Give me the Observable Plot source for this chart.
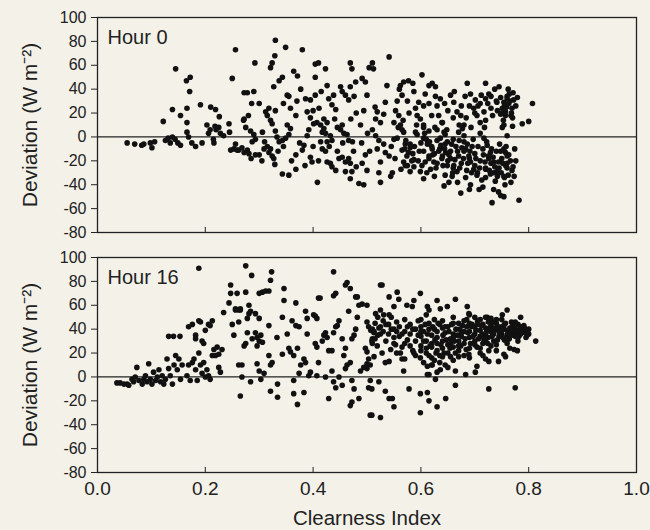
<!DOCTYPE html>
<html>
<head>
<meta charset="utf-8">
<script src="https://cdn.jsdelivr.net/npm/d3@7"></script>
<script src="https://cdn.jsdelivr.net/npm/@observablehq/plot@0.6"></script>
<style>
  html, body { margin: 0; padding: 0; background: #f3f1e8; }
  #chart { width: 650px; height: 530px; }
  #chart svg { display: block; }
</style>
</head>
<body>
<div id="chart"></div>
<script>
const panelTitles = ["Hour 0", "Hour 16"];
const yLabel = "Deviation (W m⁻²)";
const xLabel = "Clearness Index";
const yTicks = [-80, -60, -40, -20, 0, 20, 40, 60, 80, 100];
const xTicks = [0, 0.2, 0.4, 0.6, 0.8, 1.0];
const innerXTicks = [0.2, 0.4, 0.6, 0.8];

// Hour 0: [clearness index, deviation]
const hour0Points = [
[0.055,-5],[0.069,-6],[0.082,-7],[0.086,-6],[0.098,-5],[0.101,-9],[0.106,-4],
[0.122,13],[0.126,-3],[0.131,-1],[0.135,-5],[0.139,0],[0.144,-2],[0.149,-5],[0.154,-7],
[0.139,23],[0.145,57],[0.154,18],[0.165,47],[0.172,50],[0.171,38],
[0.166,24],[0.166,12],[0.166,4],[0.169,0],[0.175,-5],[0.182,-8],
[0.191,27],[0.194,-5],[0.203,10],[0.206,3],[0.209,6],[0.21,25],[0.219,23],
[0.218,9],[0.22,6],[0.225,8],[0.228,3],[0.226,17],[0.216,-5],[0.215,-2],[0.234,1],
[0.244,11],[0.245,4],[0.250,49],[0.256,73],
[0.247,-11],[0.253,-10],[0.262,-11],[0.272,-13],[0.272,37],[0.272,15],[0.256,-6],
[0.259,-11],[0.268,-9],[0.278,-11],[0.281,-14],[0.293,-15],[0.3,-15],
[0.271,14],[0.275,8],[0.278,37],[0.29,38],[0.286,28],[0.292,62],
[0.284,5],[0.29,2],[0.293,-2],[0.287,-4],
[0.306,4],[0.309,-10],[0.315,-8],[0.318,-13],[0.321,-10],[0.324,-16],
[0.312,21],[0.315,18],[0.318,24],[0.321,14],[0.324,11],
[0.321,58],[0.324,62],[0.329,68],[0.330,81],[0.349,75],
[0.327,42],[0.337,47],[0.343,50],
[0.330,5],[0.333,0],[0.337,-4],[0.343,-3],[0.349,-1],[0.355,2],[0.352,10],[0.358,7],
[0.327,-18],[0.329,-23],[0.343,-31],[0.355,-32],[0.368,-27],
[0.352,35],[0.355,34],[0.358,24],[0.368,18],
[0.364,55],[0.371,51],[0.377,40],[0.380,73],
[0.368,-15],[0.380,-11],[0.383,-7],[0.389,1],[0.392,6],
[0.386,32],[0.389,21],[0.395,31],[0.404,35],[0.395,16],
[0.395,-17],[0.398,-21],[0.408,-38],
[0.404,61],[0.410,62],[0.404,50],
[0.401,11],[0.407,12],[0.414,10],[0.420,7],[0.417,4],[0.423,3],[0.426,12],[0.420,15],[0.411,24],
[0.414,-4],[0.417,-10],[0.423,-12],[0.426,-4],[0.432,1],[0.435,-3],
[0.423,57],[0.426,43],[0.429,32],[0.435,27],[0.442,23],[0.438,35],[0.451,42],[0.454,38],
[0.426,-21],[0.432,-22],[0.435,-25],[0.442,-28],[0.448,-18],[0.454,-17],[0.460,-21],[0.466,-18],[0.469,-22],[0.460,-29],[0.469,-35],[0.472,-29],
[0.445,8],[0.451,6],[0.457,3],[0.463,2],[0.454,10],[0.466,-3],[0.473,-4],
[0.460,35],[0.466,31],[0.469,42],[0.476,34],[0.472,57],[0.469,62],[0.479,46],
[0.485,-39],[0.494,-40],
[0.491,49],[0.497,46],[0.494,22],[0.504,58],
[0.488,10],[0.501,3],[0.497,-15],[0.491,-22],
[0.510,62],[0.512,57],[0.541,67],
[0.537,43],[0.534,29],[0.531,19],[0.519,21],[0.516,15],[0.525,12],[0.516,1],[0.522,-3],[0.519,-10],[0.531,-6],[0.534,-13],[0.525,-21],[0.522,-30],[0.525,-38],[0.541,-16],[0.544,-33],[0.547,-30],
[0.562,43],[0.568,46],[0.577,47],[0.556,30],[0.565,35],[0.553,22],[0.559,18],[0.55,12],[0.562,10],[0.568,4],[0.556,-1],[0.571,-6],[0.565,-11],[0.577,-13],[0.58,-9],[0.574,-16],[0.587,-19],[0.568,-21],[0.571,-24],[0.587,-25],[0.599,-29],[0.58,-29],[0.605,-35],
[0.587,38],[0.596,29],[0.605,26],[0.593,18],[0.599,15],[0.605,10],[0.615,5],[0.593,2],[0.605,-1],[0.612,-6],[0.621,-10],[0.615,-16],[0.608,-21],[0.624,-21],[0.618,-27],
[0.602,52],[0.615,43],[0.627,42],[0.621,45],[0.63,26],[0.636,32],[0.633,18],[0.639,12],[0.643,4],[0.636,-1],[0.649,-4],[0.646,-13],[0.639,-18],[0.655,-18],[0.649,-24],[0.661,-24],[0.652,-38],[0.643,-41],[0.658,-33],[0.667,-29],
[0.655,35],[0.661,29],[0.667,21],[0.674,18],[0.671,10],[0.677,7],[0.68,1],[0.671,-3],[0.686,-6],[0.683,-10],[0.689,-16],[0.692,-21],[0.698,-27],[0.704,-32],[0.674,-47],[0.692,-40],[0.708,-44],
[0.686,45],[0.692,36],[0.701,31],[0.698,24],[0.704,18],[0.71,12],[0.717,21],[0.72,45],[0.726,36],[0.71,3],[0.717,-1],[0.723,-7],[0.729,-13],[0.726,-18],[0.735,-21],[0.72,-27],[0.729,-31],[0.738,-37],[0.744,-46],[0.732,-55],[0.748,-49],
[0.741,29],[0.751,24],[0.757,18],[0.754,10],[0.76,1],[0.754,-10],[0.76,-16],[0.744,-21],[0.757,-24],[0.741,-29],
[0.771,37],[0.76,34],[0.754,29],[0.763,28],[0.769,24],[0.757,21],[0.748,19],[0.767,18],[0.77,16],[0.77,9],[0.751,8],
[0.807,28],[0.788,11],[0.8,13],
[0.748,-12],[0.757,-13],[0.763,-15],[0.776,-20],[0.76,-26],[0.769,-28],[0.773,-33],[0.754,-33],[0.767,-38],[0.754,-50],[0.782,-53]
];
const hour0Dense = [
[0.6,-5],[0.605,-12],[0.61,-2],[0.615,-18],[0.62,-8],[0.625,-14],[0.63,-3],[0.63,-22],[0.635,-10],[0.64,-16],
[0.645,2],[0.645,-6],[0.65,-20],[0.655,-12],[0.66,-2],[0.66,-26],[0.665,-8],[0.67,-16],[0.675,-22],[0.68,-4],
[0.68,-12],[0.685,-28],[0.69,-18],[0.695,-8],[0.70,-24],[0.70,-14],[0.705,-30],[0.71,-20],[0.715,-10],[0.72,-26],
[0.72,-34],[0.725,-16],[0.73,-22],[0.735,-30],[0.74,-12],[0.745,-26],[0.75,-18],[0.755,-34],[0.76,-22],[0.58,-6],
[0.585,-14],[0.59,4],[0.595,-20],[0.57,-10],[0.565,6],[0.575,-24],[0.55,-2],[0.545,-8],[0.7,20],[0.71,28],
[0.72,14],[0.73,24],[0.74,30],[0.75,20],[0.76,32],[0.69,26],[0.68,10],[0.67,4],[0.66,16],[0.65,22],
[0.64,12],[0.63,6],[0.62,18],[0.615,28],[0.605,8],[0.72,32],[0.73,34],[0.755,26],[0.765,30]
];
const hour0Dense2 = [
[0.552,-18],[0.558,8],[0.563,-27],[0.567,14],[0.572,-3],[0.578,20],[0.583,-20],[0.588,-8],[0.592,10],[0.597,-12],
[0.602,-24],[0.607,3],[0.611,-30],[0.616,-4],[0.622,-15],[0.626,8],[0.628,-26],[0.633,-12],[0.637,-7],[0.641,-24],
[0.644,-10],[0.648,6],[0.652,-15],[0.657,-6],[0.659,-30],[0.663,-19],[0.668,-12],[0.672,-26],[0.676,-9],[0.679,-18],
[0.683,-34],[0.687,-22],[0.691,-12],[0.694,-30],[0.697,-2],[0.702,-18],[0.706,-8],[0.709,-26],[0.713,-36],[0.716,-15],
[0.719,-21],[0.722,-4],[0.727,-28],[0.731,-10],[0.734,-17],[0.737,-25],[0.742,-33],[0.746,-6],[0.749,-30],[0.752,-22],
[0.756,-40],[0.758,-8],[0.762,-32],[0.766,-20],[0.771,-25],[0.774,-10],
[0.706,26],[0.712,35],[0.718,8],[0.724,28],[0.733,18],[0.737,40],[0.742,22],[0.748,33],[0.753,14],[0.759,25],
[0.764,36],[0.768,20],[0.772,31],[0.776,26],[0.779,33],[0.745,42],[0.762,40],
[0.675,26],[0.684,16],[0.693,8],[0.682,34],[0.662,38],[0.644,28],[0.627,34],[0.608,36],[0.59,24],[0.575,30],[0.56,40],[0.585,45],
[0.645,-32],[0.668,-38],[0.69,-44],[0.715,-42],[0.735,-44],[0.625,-33],
[0.31,-4],[0.335,-12],[0.345,-8],[0.36,-20],[0.375,-5],[0.385,-24],[0.4,-8],[0.41,-20],[0.43,-8],[0.445,-12],
[0.455,-5],[0.475,-12],[0.48,-25],[0.49,-5],[0.5,-28],[0.505,-12],[0.51,6],[0.515,25],[0.5,35],[0.48,20],
[0.47,15],[0.44,15],[0.415,38],[0.4,22],[0.37,30],[0.345,28],[0.33,22],[0.3,28],[0.305,-20],[0.285,-18],[0.28,18]
];

// Hour 16: [clearness index, deviation]
const hour16Points = [
[0.036,-5],[0.042,-5],[0.049,-6],[0.055,-6],[0.058,-7],
[0.064,-2],[0.070,0],[0.067,-4],[0.073,8],[0.077,-3],[0.083,-6],[0.086,-2],[0.089,1],[0.092,-4],[0.095,11],[0.098,-2],[0.101,-6],[0.104,4],[0.108,-3],[0.111,0],[0.114,6],[0.117,-4],[0.12,1],[0.123,-6],[0.126,-2],[0.129,15],[0.132,7],[0.135,1],[0.139,-6],[0.142,10],[0.145,18],[0.148,6],[0.151,15],[0.154,-2],
[0.132,34],[0.141,34],[0.153,34],
[0.157,10],[0.166,1],[0.169,10],[0.172,-3],[0.176,12],[0.179,15],[0.182,6],[0.185,-3],[0.188,20],[0.191,10],[0.194,3],[0.197,12],[0.2,0],[0.203,6],[0.206,1],[0.209,-2],[0.213,18],[0.216,23],[0.219,18],[0.225,19],[0.228,4],[0.231,23],[0.222,25],[0.225,8],
[0.169,42],[0.176,44],[0.182,35],[0.182,32],[0.188,47],[0.194,30],[0.197,28],[0.2,39],[0.206,44],[0.209,43],[0.213,47],[0.191,46],
[0.188,91],
[0.234,54],[0.244,62],[0.247,70],[0.25,44],[0.253,35],[0.256,56],[0.262,56],[0.265,56],[0.272,26],[0.268,10],[0.268,0],[0.265,-16],
[0.247,77],[0.275,93],
[0.286,85],[0.323,88],[0.321,81],
[0.259,70],[0.265,57],[0.256,57],[0.262,46],[0.281,60],[0.284,55],[0.281,53],[0.278,49],[0.275,71],[0.3,70],[0.306,71],[0.312,72],[0.318,72],[0.293,53],[0.3,49],[0.318,43],[0.343,50],[0.346,64],[0.346,74],[0.368,62],
[0.293,37],[0.296,33],[0.3,30],[0.306,29],[0.296,26],[0.303,35],[0.278,37],[0.275,28],[0.287,32],[0.318,18],[0.324,12],[0.321,10],[0.296,11],[0.3,5],[0.303,-2],[0.309,3],[0.262,10],[0.284,-4],
[0.321,-12],[0.334,-6],[0.334,-17],[0.364,-3],[0.371,-23],[0.364,-14],[0.383,-13],
[0.333,33],[0.352,36],[0.343,19],[0.355,24],[0.358,21],[0.364,18],[0.371,24],[0.368,43],[0.361,47],[0.374,42],[0.377,10],[0.383,15],[0.386,55],[0.389,49],[0.386,12],[0.389,36],[0.395,4],[0.374,3],
[0.404,51],[0.401,52],[0.407,49],[0.41,66],[0.413,66],[0.404,28],[0.407,25],[0.41,12],[0.417,30],[0.42,35],[0.423,37],[0.426,33],[0.429,22],[0.435,22],[0.438,37],[0.442,42],[0.445,43],[0.448,47],[0.454,32],[0.457,18],[0.46,24],[0.463,10],[0.469,12],[0.472,32],[0.476,35],[0.479,40],[0.482,50],[0.482,67],[0.485,60],[0.491,61],[0.5,60],[0.466,55],
[0.438,88],[0.442,70],[0.438,68],[0.46,77],[0.463,79],[0.469,74],[0.479,67],
[0.392,1],[0.407,1],[0.423,0],[0.435,5],[0.438,-4],[0.442,-9],[0.448,0],[0.454,-7],[0.46,7],[0.472,-3],[0.476,-10],[0.485,-18],[0.472,-21],[0.469,-24],[0.429,-18],[0.503,-9],[0.506,-32],
[0.5,46],[0.503,42],[0.507,39],[0.51,32],[0.497,24],[0.5,21],[0.503,15],[0.5,11],[0.5,7],[0.51,28],[0.513,37],
[0.488,5],[0.494,8],
[0.525,77],[0.528,77],
[0.541,67],[0.556,71],[0.559,65],[0.599,70],[0.587,64],[0.574,60],[0.584,59],[0.630,64],[0.664,65],[0.636,57],[0.649,59],[0.612,59],[0.615,56],[0.550,59],[0.525,56],[0.516,53],[0.531,52],[0.541,52],
[0.686,59],[0.689,53],[0.723,50],[0.751,52],[0.76,56],
[0.513,38],[0.522,41],[0.509,30],[0.519,26],[0.528,20],[0.506,10],[0.513,17],[0.534,12],[0.541,13],[0.544,23],[0.553,27],[0.562,20],[0.565,15],[0.568,5],[0.587,20],[0.599,16],[0.612,9],[0.621,10],[0.615,2],[0.630,4],[0.636,6],[0.664,5],[0.683,2],[0.701,4],[0.704,9],[0.72,15],[0.726,13],[0.744,13],[0.757,17],[0.71,20],[0.726,22],[0.655,17],[0.67,17],[0.689,19],
[0.506,-3],[0.522,-4],[0.509,-10],[0.534,-12],[0.541,-18],[0.547,-18],[0.55,-25],[0.509,-32],[0.525,-34],[0.578,-10],[0.599,-14],[0.612,-13],[0.615,-20],[0.599,-30],[0.630,-25],[0.646,-18],[0.627,-2],[0.664,-7],[0.726,-10],[0.612,2],
[0.785,50],[0.791,43],[0.8,40],[0.797,35],[0.813,30],[0.773,23],[0.779,22],[0.754,19],[0.775,-9]
];
const hour16Dense = [
[0.51,40],[0.515,45],[0.52,35],[0.52,50],[0.525,42],[0.53,38],[0.53,47],[0.535,30],[0.54,44],[0.54,36],
[0.545,50],[0.55,40],[0.55,28],[0.555,46],[0.56,34],[0.56,42],[0.565,25],[0.57,38],[0.57,48],[0.575,31],
[0.58,44],[0.58,36],[0.585,22],[0.59,40],[0.59,30],[0.595,47],[0.60,34],[0.60,26],[0.60,42],[0.605,38],
[0.61,20],[0.61,30],[0.615,45],[0.62,35],[0.62,25],[0.62,16],[0.625,40],[0.63,28],[0.63,22],[0.63,33],
[0.635,18],[0.635,44],[0.64,30],[0.64,24],[0.645,37],[0.65,27],[0.65,20],[0.65,42],[0.655,32],[0.66,36],
[0.66,25],[0.665,40],[0.67,30],[0.67,45],[0.675,34],[0.68,38],[0.68,28],[0.685,42],[0.685,48],[0.69,33],
[0.69,38],[0.695,44],[0.70,36],[0.70,30],[0.70,42],[0.705,47],[0.71,34],[0.71,39],[0.715,44],[0.715,28],
[0.72,36],[0.72,41],[0.725,33],[0.725,46],[0.73,38],[0.73,43],[0.735,30],[0.735,36],[0.74,40],[0.74,45],
[0.745,34],[0.745,38],[0.75,42],[0.75,36],[0.755,31],[0.755,44],[0.76,39],[0.76,35],[0.765,41],[0.77,37],
[0.77,43],[0.775,34],[0.78,39],[0.785,36],[0.79,38],[0.795,33],[0.60,48],[0.61,52],[0.64,47],[0.66,50],
[0.69,52],[0.72,50],[0.74,48],[0.67,22],[0.68,18],[0.71,24],[0.73,26],[0.76,28],[0.62,28],[0.63,38],
[0.64,41],[0.58,26],[0.59,18],[0.555,20],[0.57,15],[0.66,14],[0.69,16],[0.715,18],[0.74,22],[0.765,24],
[0.62,10],[0.65,8],[0.605,12]
];
const hour16Dense2 = [
[0.605,30],[0.608,44],[0.612,36],[0.617,26],[0.622,42],[0.626,31],[0.628,20],[0.632,45],[0.637,27],[0.641,35],
[0.643,20],[0.647,31],[0.652,38],[0.654,24],[0.657,44],[0.662,30],[0.664,20],[0.668,35],[0.672,40],[0.674,26],
[0.677,43],[0.682,32],[0.684,23],[0.687,37],[0.692,28],[0.694,42],[0.697,34],[0.702,39],[0.704,25],[0.707,32],
[0.712,43],[0.714,36],[0.717,31],[0.722,38],[0.724,28],[0.727,41],[0.732,34],[0.734,46],[0.737,39],[0.742,31],
[0.744,42],[0.747,37],[0.752,33],[0.754,40],[0.757,45],[0.762,37],[0.764,32],[0.767,39],[0.772,35],[0.774,41],
[0.777,38],[0.782,34],[0.784,40],[0.787,37],[0.792,41],[0.795,37],[0.798,39],[0.78,44],[0.768,46],[0.75,48],
[0.73,49],[0.71,48],[0.7,50],[0.68,47],[0.66,45],[0.645,42],[0.625,48],[0.615,40],[0.6,38],[0.595,35],
[0.585,40],[0.575,42],[0.565,36],[0.555,38],[0.545,40],[0.535,44],[0.525,36],[0.515,32],[0.55,33],[0.57,28],
[0.6,22],[0.615,18],[0.625,14],[0.64,17],[0.655,28],[0.67,26],[0.69,24],[0.7,27],[0.72,30],[0.74,27],
[0.76,30],[0.78,30],[0.635,12],[0.645,10],[0.61,24],[0.66,33],[0.675,37],[0.69,45],[0.705,44],[0.72,33],
[0.735,41],[0.75,39],[0.765,35],[0.785,42],[0.8,36],[0.775,46]
];

const font = "'Liberation Sans', Arial, Helvetica, sans-serif";
const ink = "#222";

function panel(points, title, isBottom) {
  const height = isBottom ? 285 : 245;
  const marks = [
    Plot.ruleY([0], {stroke: ink, strokeWidth: 1.3}),
    Plot.dot(points, {x: d => d[0], y: d => d[1], r: 2.8, fill: "#111", stroke: "none"}),
    Plot.frame({stroke: ink, strokeWidth: 1.3}),
    Plot.tickX(innerXTicks, {x: d => d, insetTop: 210, stroke: ink, strokeWidth: 1}),
    Plot.axisY({ticks: yTicks, tickSize: 6, tickPadding: 5, fontSize: 16, tickFormat: d => String(d), label: null, stroke: ink}),
    Plot.text([yLabel], {frameAnchor: "left", dx: -67, rotate: -90, fontSize: 21, textAnchor: "middle", fill: ink}),
    Plot.text([title], {frameAnchor: "top-left", dx: 10, dy: 12, fontSize: 20, textAnchor: "start", lineAnchor: "top", fill: ink})
  ];
  if (isBottom) {
    marks.push(
      Plot.axisX({ticks: xTicks, tickSize: 0, tickPadding: 9, fontSize: 19, tickFormat: d3.format(".1f"), label: null}),
      Plot.text([xLabel], {frameAnchor: "bottom", dy: 46, fontSize: 20.5, lineAnchor: "middle", fill: ink})
    );
  }
  return Plot.plot({
    width: 650,
    height,
    marginLeft: 97,
    marginRight: 14,
    marginTop: isBottom ? 12 : 17,
    marginBottom: isBottom ? 58 : 13,
    style: {background: "transparent", fontFamily: font, color: ink, overflow: "visible"},
    x: {domain: [0, 1], axis: null},
    y: {domain: [-80, 100], axis: null},
    marks
  });
}

const chart = document.getElementById("chart");
chart.append(panel(hour0Points.concat(hour0Dense, hour0Dense2), panelTitles[0], false));
chart.append(panel(hour16Points.concat(hour16Dense, hour16Dense2), panelTitles[1], true));
</script>
</body>
</html>
